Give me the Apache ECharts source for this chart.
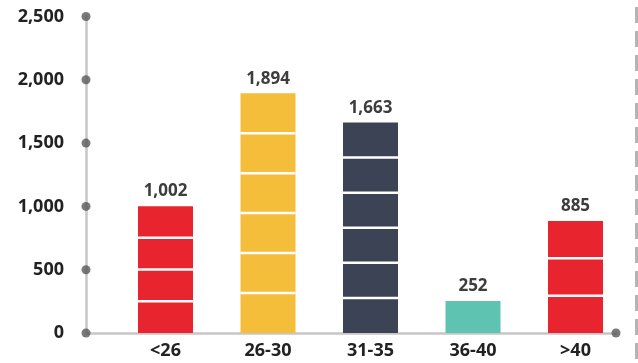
<!DOCTYPE html>
<html>
<head>
<meta charset="utf-8">
<script src="https://cdn.jsdelivr.net/npm/echarts@6/dist/echarts.min.js"></script>
<style>
  html, body { margin: 0; padding: 0; background: #fff; }
  #chart { width: 638px; height: 363px; }
</style>
</head>
<body>
<div id="chart"></div>
<script>
// Age groups and their counts
const categories = ['<26', '26-30', '31-35', '36-40', '>40'];
const counts = [1002, 1894, 1663, 252, 885];
// Number of stacked blocks each bar is split into
const blocks = [4, 6, 6, 1, 3];
const barColors = ['#E8252F', '#F4BD3A', '#3B4354', '#5EC3B0', '#E8252F'];
// Value axis ticks
const yTicks = [0, 500, 1000, 1500, 2000, 2500];

const chart = echarts.init(document.getElementById('chart'));

const gridTop = 16.5, gridBottom = 30;

chart.setOption({
  animation: false,
  grid: [
    // frame grid: carries the visible axis lines and tick dots
    { left: 86, right: 22, top: gridTop, bottom: gridBottom },
    // plot grid: carries the bars
    { left: 114.25, right: 11.25, top: gridTop, bottom: gridBottom }
  ],
  xAxis: [
    {
      gridIndex: 0, type: 'value', min: 0, max: 1,
      axisLine: { show: true, lineStyle: { color: '#c6c6c6', width: 2.5 } },
      axisTick: { show: false }, axisLabel: { show: false }, splitLine: { show: false }
    },
    {
      gridIndex: 1, type: 'category', data: categories,
      axisLine: { show: false }, axisTick: { show: false },
      axisLabel: {
        margin: 9, color: '#222', fontSize: 18, fontWeight: 'bold',
        fontFamily: "'Open Sans', sans-serif"
      }
    }
  ],
  yAxis: [
    {
      gridIndex: 0, type: 'value', min: 0, max: 2500, interval: 500,
      axisLine: { show: true, lineStyle: { color: '#c6c6c6', width: 2.5 } },
      axisTick: { show: false }, splitLine: { show: false },
      axisLabel: {
        margin: 22, color: '#222', fontSize: 18, fontWeight: 'bold',
        fontFamily: "'Open Sans', sans-serif",
        formatter: v => v.toLocaleString('en-US')
      }
    },
    {
      gridIndex: 1, type: 'value', min: 0, max: 2500, interval: 500,
      show: false
    }
  ],
  graphic: [
    {
      type: 'line', z: 0,
      shape: { x1: 636.5, y1: 7, x2: 636.5, y2: 363 },
      style: { stroke: '#b4b4b4', lineWidth: 3, lineDash: [16, 8] }
    }
  ],
  series: [
    {
      type: 'bar', xAxisIndex: 1, yAxisIndex: 1, barWidth: 55,
      data: counts.map((v, i) => ({ value: v, itemStyle: { color: barColors[i] } })),
      label: {
        show: true, position: 'top', distance: 6,
        color: '#3d3d3d', fontSize: 17, fontWeight: 'bold',
        fontFamily: "'Open Sans', sans-serif",
        formatter: p => p.value.toLocaleString('en-US')
      },
      z: 2
    },
    {
      // white divider lines splitting each bar into equal blocks
      type: 'custom', xAxisIndex: 1, yAxisIndex: 1, z: 3, silent: true,
      data: counts.map((v, i) => [i, v, blocks[i]]),
      renderItem: function (params, api) {
        const idx = api.value(0), val = api.value(1), n = api.value(2);
        const top = api.coord([idx, val]);
        const base = api.coord([idx, 0]);
        const half = 27.5;
        const children = [];
        for (let k = 1; k < n; k++) {
          const y = base[1] + (top[1] - base[1]) * k / n;
          children.push({
            type: 'line',
            shape: { x1: base[0] - half, y1: y, x2: base[0] + half, y2: y },
            style: { stroke: '#ffffff', lineWidth: 2.5 }
          });
        }
        return { type: 'group', children: children };
      }
    },
    {
      // tick dots on the value axis and the end of the base line
      type: 'scatter', xAxisIndex: 0, yAxisIndex: 0, z: 5,
      symbol: 'circle', symbolSize: 9, clip: false, silent: true,
      itemStyle: { color: '#555759' },
      data: yTicks.map(t => [0, t]).concat([[1, 0]])
    }
  ]
});
</script>
</body>
</html>
